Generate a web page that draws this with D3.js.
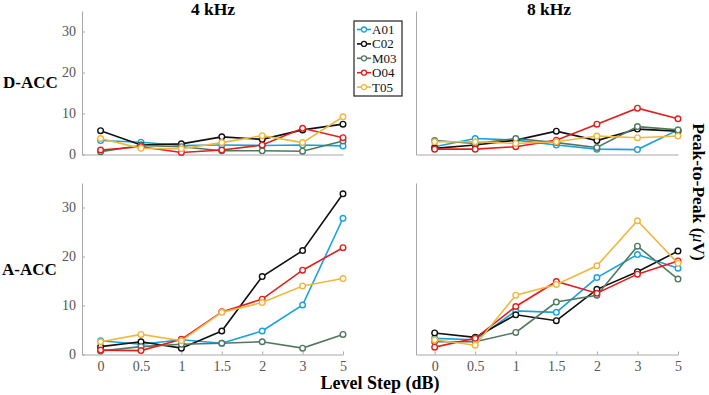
<!DOCTYPE html>
<html>
<head>
<meta charset="utf-8">
<script src="https://cdn.jsdelivr.net/npm/d3@7"></script>
<style>
  body { margin: 0; background: #fff; }
  svg text { font-family: "Liberation Serif", "Times New Roman", Tinos, serif; }
  .axis path, .axis line { stroke: #a8a8a8; }
  .axis text { fill: #555; font-size: 14px; }
</style>
</head>
<body>
<svg id="chart"></svg>
<script>
let w = 709;
let h = 395;

// x categories (level step, dB)
let steps = ["0", "0.5", "1", "1.5", "2", "3", "5"];
let subjects = ["A01", "C02", "M03", "O04", "T05"];
let colors = ["#1ba1dd", "#111111", "#52785f", "#e11f1c", "#efb73f"];
let yTicks = [0, 10, 20, 30];

// D-ACC, 4 kHz
let d4_A01 = [3.4, 3.0, 2.2, 2.3, 2.2, 2.3, 2.1];
let d4_C02 = [5.8, 2.3, 2.6, 4.3, 3.7, 6.0, 7.4];
let d4_M03 = [0.7, 2.2, 1.9, 0.9, 0.9, 0.8, 3.3];
let d4_O04 = [1.1, 1.9, 0.5, 1.1, 2.3, 6.4, 4.1];
let d4_T05 = [3.9, 1.5, 1.4, 2.9, 4.6, 2.9, 9.2];

// D-ACC, 8 kHz
let d8_A01 = [1.9, 3.9, 3.5, 2.3, 1.3, 1.2, 6.0];
let d8_C02 = [1.5, 2.3, 3.5, 5.7, 3.4, 6.2, 5.7];
let d8_M03 = [3.4, 2.7, 3.9, 2.9, 1.7, 6.8, 6.0];
let d8_O04 = [1.3, 1.3, 1.9, 3.5, 7.4, 11.3, 8.7];
let d8_T05 = [3.1, 3.1, 2.7, 3.1, 4.5, 4.1, 4.5];

// A-ACC, 4 kHz
let a4_A01 = [2.8, 2.1, 3.0, 2.3, 4.8, 10.1, 27.8];
let a4_C02 = [1.6, 2.6, 1.3, 4.8, 15.9, 21.2, 32.8];
let a4_M03 = [0.7, 1.6, 2.1, 2.3, 2.6, 1.3, 4.1];
let a4_O04 = [0.9, 0.8, 3.1, 8.7, 11.3, 17.2, 21.8];
let a4_T05 = [2.6, 4.1, 2.8, 8.6, 10.6, 14.0, 15.5];

// A-ACC, 8 kHz
let a8_A01 = [3.3, 3.0, 8.9, 8.6, 15.7, 20.4, 17.6];
let a8_C02 = [4.4, 3.5, 8.1, 6.9, 13.3, 16.9, 21.1];
let a8_M03 = [2.6, 2.6, 4.5, 10.7, 12.1, 22.1, 15.4];
let a8_O04 = [1.5, 3.3, 9.8, 14.9, 12.5, 16.4, 19.1];
let a8_T05 = [3.0, 1.9, 12.1, 14.3, 18.1, 27.3, 18.6];

let panels = [
  { row: 0, col: 0, series: [d4_A01, d4_C02, d4_M03, d4_O04, d4_T05] },
  { row: 0, col: 1, series: [d8_A01, d8_C02, d8_M03, d8_O04, d8_T05] },
  { row: 1, col: 0, series: [a4_A01, a4_C02, a4_M03, a4_O04, a4_T05] },
  { row: 1, col: 1, series: [a8_A01, a8_C02, a8_M03, a8_O04, a8_T05] }
];

let colX = [[82, 343], [416, 678]];
let rowY = [[154.5, 11], [354.5, 183]];

let svg = d3.select("#chart").attr("width", w).attr("height", h);

panels.forEach(p => {
  let xScale = d3.scaleLinear().domain([-0.46, steps.length - 1]).range(colX[p.col]);
  let yScale = d3.scaleLinear().domain([0, 35]).range(rowY[p.row]);

  let g = svg.append("g");

  // axes
  let xAxis = d3.axisBottom(xScale)
    .tickValues(d3.range(steps.length))
    .tickFormat(i => p.row == 1 ? steps[i] : "")
    .tickSizeInner(p.row == 1 ? -3 : 0)
    .tickSizeOuter(0)
    .tickPadding(7);
  g.append("g").attr("class", "axis")
    .attr("transform", `translate(0, ${rowY[p.row][0]})`)
    .call(xAxis);

  let yAxis = d3.axisLeft(yScale)
    .tickValues(p.col == 0 ? yTicks : [])
    .tickSizeInner(-3)
    .tickSizeOuter(0)
    .tickPadding(6);
  g.append("g").attr("class", "axis")
    .attr("transform", `translate(${colX[p.col][0]}, 0)`)
    .call(yAxis);

  let line = d3.line()
    .x((d, i) => xScale(i))
    .y(d => yScale(d));

  p.series.forEach((vals, k) => {
    g.append("path")
      .datum(vals)
      .attr("d", line)
      .attr("fill", "none")
      .attr("stroke", colors[k])
      .attr("stroke-width", 1.6);
    g.selectAll(null)
      .data(vals)
      .join("circle")
      .attr("cx", (d, i) => xScale(i))
      .attr("cy", d => yScale(d))
      .attr("r", 2.8)
      .attr("fill", "#fff")
      .attr("stroke", colors[k])
      .attr("stroke-width", 1.4);
  });
});

// titles and labels
svg.append("text").attr("x", 213).attr("y", 15).attr("text-anchor", "middle")
  .attr("font-weight", "bold").attr("font-size", 17.5).text("4 kHz");
svg.append("text").attr("x", 549).attr("y", 15).attr("text-anchor", "middle")
  .attr("font-weight", "bold").attr("font-size", 17.5).text("8 kHz");
svg.append("text").attr("x", 3).attr("y", 88)
  .attr("font-weight", "bold").attr("font-size", 17).text("D-ACC");
svg.append("text").attr("x", 2).attr("y", 275)
  .attr("font-weight", "bold").attr("font-size", 17).text("A-ACC");
svg.append("text").attr("x", 380).attr("y", 389).attr("text-anchor", "middle")
  .attr("font-weight", "bold").attr("font-size", 18).text("Level Step (dB)");

let yl = svg.append("text")
  .attr("transform", "translate(693, 192) rotate(90)")
  .attr("text-anchor", "middle")
  .attr("font-weight", "bold").attr("font-size", 17.5);
yl.append("tspan").text("Peak-to-Peak (");
yl.append("tspan").attr("font-style", "italic").attr("font-weight", "normal").text("μ");
yl.append("tspan").text("V)");

// legend
let lg = svg.append("g").attr("transform", "translate(354, 21)");
lg.append("rect").attr("width", 48).attr("height", 75)
  .attr("fill", "#fff").attr("stroke", "#333").attr("stroke-width", 1.3);
let items = lg.selectAll("g.item").data(subjects).join("g")
  .attr("class", "item")
  .attr("transform", (d, i) => `translate(0, ${8.5 + i * 14.4})`);
items.append("line").attr("x1", 3).attr("x2", 17)
  .attr("stroke", (d, i) => colors[i]).attr("stroke-width", 1.6);
items.append("circle").attr("cx", 10).attr("r", 2.5)
  .attr("fill", "#fff").attr("stroke", (d, i) => colors[i]).attr("stroke-width", 1.3);
items.append("text").attr("x", 18).attr("dy", "0.35em")
  .attr("font-size", 13).attr("fill", "#111").text(d => d);
</script>
</body>
</html>
